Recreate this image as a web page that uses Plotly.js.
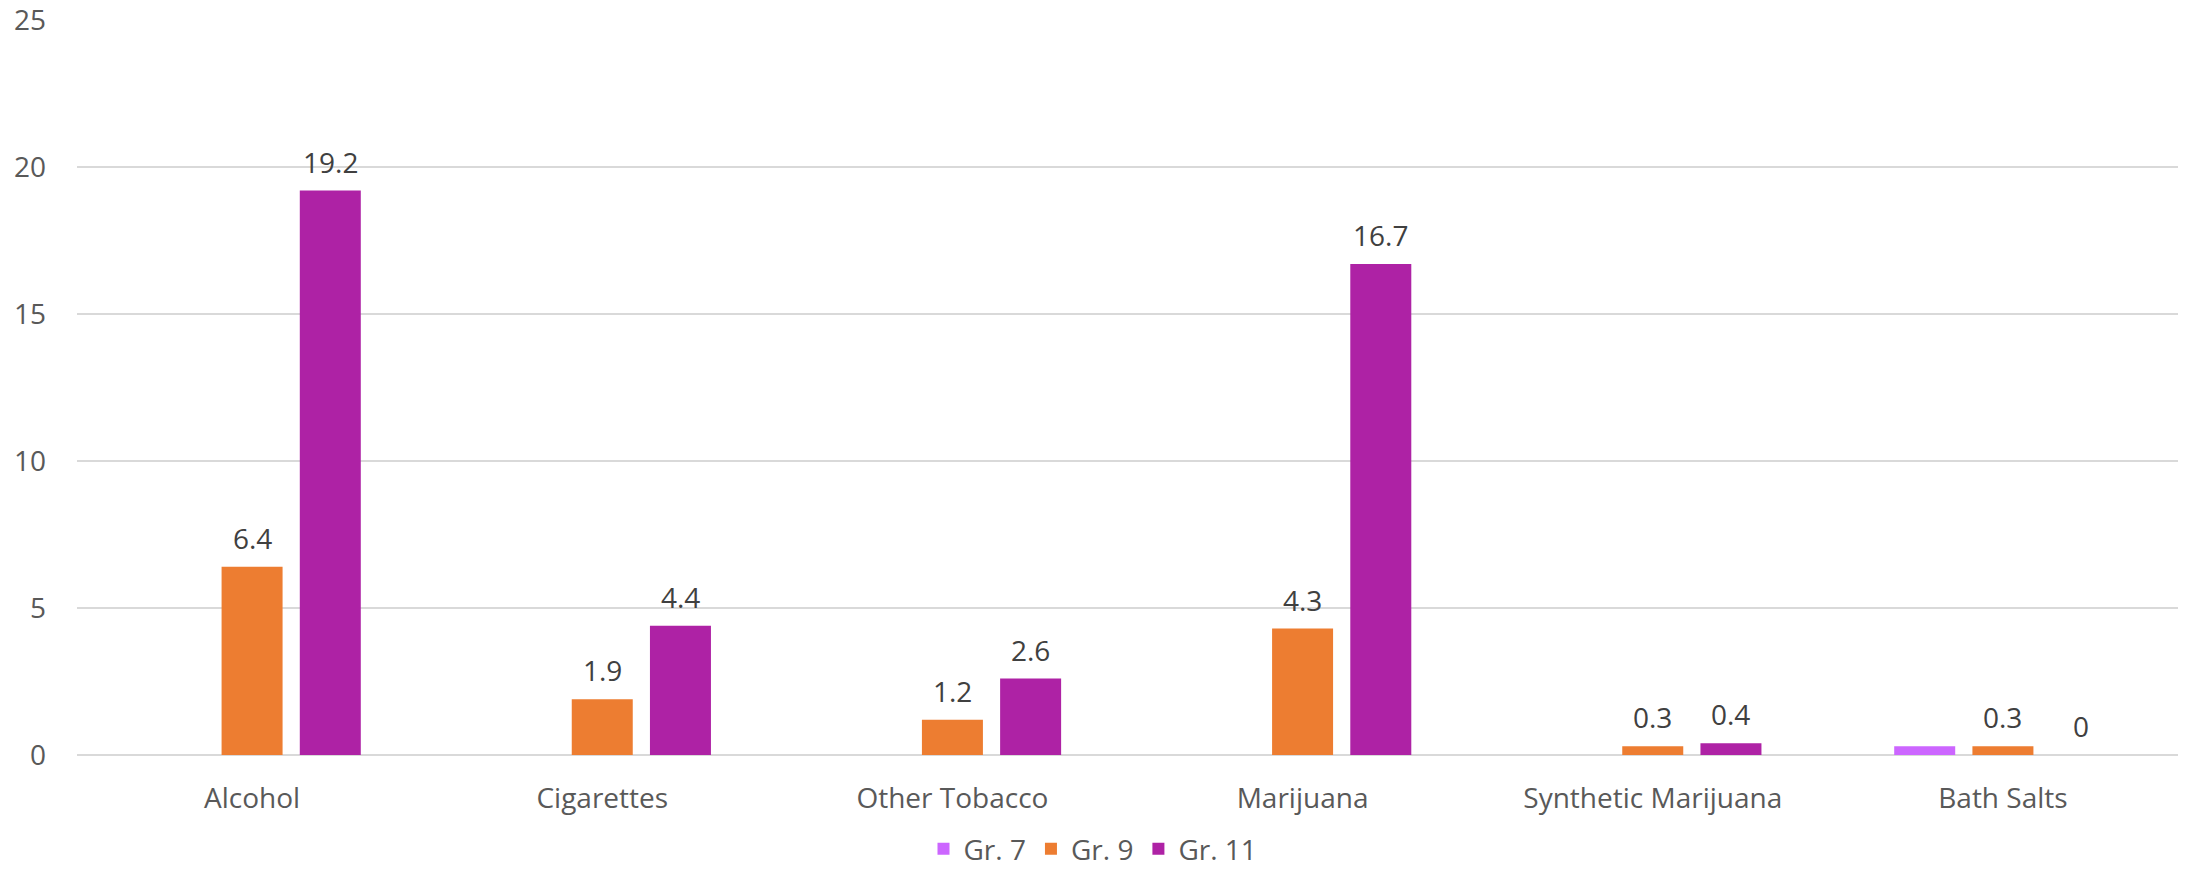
<!DOCTYPE html>
<html>
<head>
<meta charset="utf-8">
<script src="https://cdn.plot.ly/plotly-3.0.1.min.js"></script>
<style>html,body{margin:0;padding:0;background:#fff;}#chart{width:2186px;height:874px;}</style>
</head>
<body>
<div id="chart"></div>
<script>
const categories = ["Alcohol", "Cigarettes", "Other Tobacco", "Marijuana", "Synthetic Marijuana", "Bath Salts"];
const gr7 = [0, 0, 0, 0, 0, 0.3];
const gr9 = [6.4, 1.9, 1.2, 4.3, 0.3, 0.3];
const gr11 = [19.2, 4.4, 2.6, 16.7, 0.4, 0];
const yTicks = [0, 5, 10, 15, 20, 25];

const FONT = "Open Sans, Noto Sans, sans-serif";
const labelFont = {family: FONT, size: 28, color: "#404040"};

const W = 2186, H = 874;
const M = {l: 77, r: 8, t: 20, b: 119};
const BARGAP = 0.33, GROUPGAP = 0.22;

const traces = [
  {type: "bar", name: "Gr. 7", x: categories, y: gr7, marker: {color: "#CC66FF"}},
  {type: "bar", name: "Gr. 9", x: categories, y: gr9, marker: {color: "#ED7D31"}},
  {type: "bar", name: "Gr. 11", x: categories, y: gr11, marker: {color: "#AE22A5"}}
];

// data labels via annotations placed at the bar values through the axes
const catW = (W - M.l - M.r) / categories.length;
const slot = catW * (1 - BARGAP) / 3;
const annotations = [];
categories.forEach((c, i) => {
  annotations.push({x: c, y: gr9[i], text: String(gr9[i]), showarrow: false, yanchor: "bottom",
                    yshift: 8, xshift: 0, font: labelFont});
  annotations.push({x: c, y: gr11[i], text: String(gr11[i]), showarrow: false, yanchor: "bottom",
                    yshift: 8, xshift: slot, font: labelFont});
});

const layout = {
  width: W, height: H,
  margin: M,
  paper_bgcolor: "#fff", plot_bgcolor: "#fff",
  barmode: "group", bargap: BARGAP, bargroupgap: GROUPGAP,
  font: {family: FONT, color: "#595959", size: 28},
  xaxis: {tickfont: {family: FONT, size: 28, color: "#595959"}, showline: false, ticks: "",
          ticklabelstandoff: 24, fixedrange: true},
  yaxis: {range: [0, 25], tickvals: yTicks, ticktext: yTicks.map(String), showgrid: true,
          gridcolor: "#D9D9D9", gridwidth: 2, zeroline: true, zerolinecolor: "#D9D9D9", zerolinewidth: 2,
          tickfont: {family: FONT, size: 28, color: "#595959"}, ticks: "", ticklen: 0, ticklabelstandoff: 30,
          ticklabeloverflow: "allow"},
  showlegend: true,
  legend: {orientation: "h", x: 0.5, xanchor: "center", xref: "container", y: 0, yanchor: "bottom", yref: "container",
           font: {family: FONT, size: 28, color: "#595959"}, traceorder: "normal", borderwidth: 0},
  annotations: annotations
};

Plotly.newPlot("chart", traces, layout, {displayModeBar: false, staticPlot: true});
</script>
</body>
</html>
